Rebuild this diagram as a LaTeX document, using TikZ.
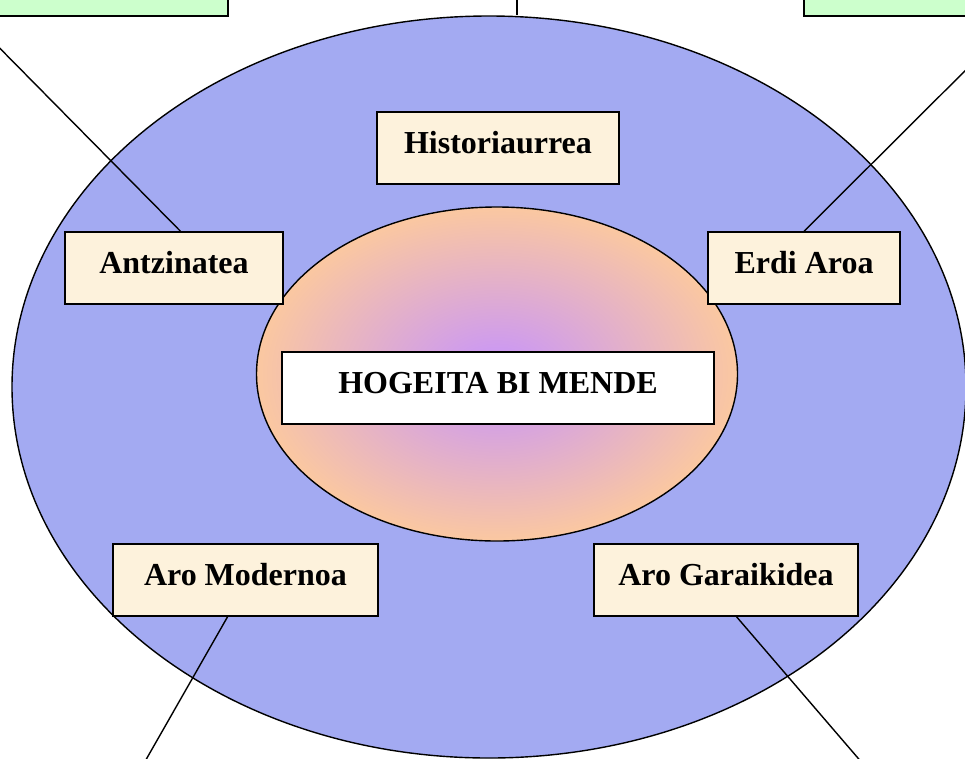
\documentclass[tikz,border=0pt]{standalone}
\usepackage{fontspec}
\setmainfont{Liberation Serif}
\usetikzlibrary{shapes.geometric}
\definecolor{outerblue}{RGB}{163,170,242}
\definecolor{peach}{RGB}{255,204,153}
\definecolor{lilac}{RGB}{204,153,242}
\definecolor{parchment}{RGB}{253,242,220}
\definecolor{mint}{RGB}{204,255,204}
\pgfdeclareradialshading{glow}{\pgfpoint{0bp}{0bp}}{color(0bp)=(lilac); color(3bp)=(lilac); color(27bp)=(peach); color(50bp)=(peach)}
\tikzset{
  period/.style={draw, line width=1.5pt, fill=parchment, minimum height=72pt, inner sep=0pt,
    text height=23pt, text depth=12pt, font=\bfseries\fontsize{32}{38}\selectfont},
  note/.style={draw, line width=1.5pt, fill=mint, minimum height=76pt, inner sep=0pt},
  link/.style={draw, -, line width=1.4pt}
}
\begin{document}
\begin{tikzpicture}[x=1pt, y=-1pt]
      \useasboundingbox (0,0) rectangle (965,758);
      \clip (0,0) rectangle (965,758);
      % notes cut off by the page edge
      \node[note, minimum width=428pt] (leftnote) at (14,-22) {};
      \node[note, minimum width=396pt] (rightnote) at (1002,-22) {};
      \coordinate (topnote) at (517,-60);
      \coordinate (leftend) at (-32,16);
      \coordinate (rightend) at (1020,16);
      \coordinate (modend) at (123,800);
      \coordinate (garend) at (894,800);
      % the two ellipses
      \node[draw, ellipse, line width=1.4pt, fill=outerblue, minimum width=954pt,
        minimum height=742pt, inner sep=0pt] (era) at (489,387) {};
      \node[draw, ellipse, line width=1.4pt, shading=glow, minimum width=481pt,
        minimum height=334pt, inner sep=0pt] (core) at (497,374) {};
      \path[link] (topnote) -- (topnote |- era.north);
      \def \Periods{
        hist/498/148/242/Historiaurrea,
        antz/174/268/218/Antzinatea,
        erdi/804/268/192/Erdi Aroa,
        modern/245.5/580/265/Aro Modernoa,
        garai/726/580/264/Aro Garaikidea}
      \def \Links{
        antz.80/leftend,
        erdi.north/rightend,
        modern.244/modend,
        garai.286/garend}
      \foreach \id / \x / \y / \w / \label in \Periods{
        \node[period, minimum width=\w pt] (\id) at (\x, \y) {\label};
      }
      \foreach \a / \b in \Links{
        \path[link] (\a) -- (\b);
      }
      \node[period, fill=white, minimum width=432pt] (title) at (498,388) {HOGEITA BI MENDE};
    \end{tikzpicture}
\end{document}
